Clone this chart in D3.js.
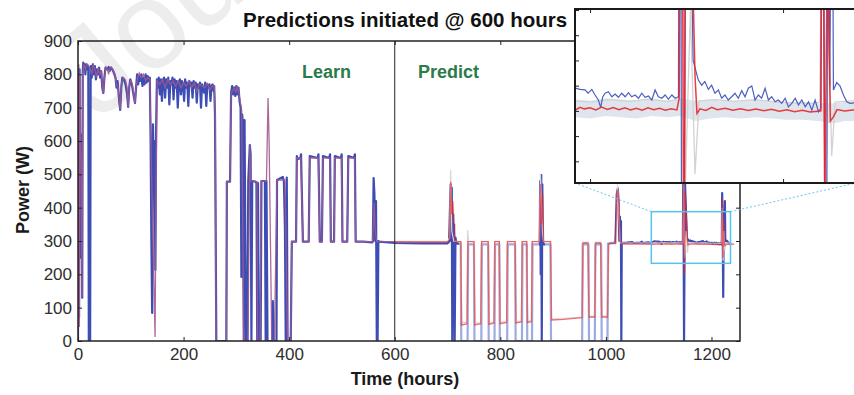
<!DOCTYPE html>
<html>
<head>
<meta charset="utf-8">
<script src="https://cdn.jsdelivr.net/npm/d3@7"></script>
<style>
  html, body { margin: 0; padding: 0; background: #fff; }
  svg { display: block; font-family: "Liberation Sans", Arial, sans-serif; }
</style>
</head>
<body>
<svg id="chart" width="854" height="395"></svg>
<script>
// measured power (W) vs time (hours)
const actual = [
  [0,0],[0.5,620],[1,800],[2,70],[3,815],[4.5,250],[5.5,620],[6.5,600],[8,130],[9,810],[10,835],[12,820],[13,830],[14,800],
  [15,830],[17,815],[18,828],[19.5,820],[20.5,0],[23,0],[24,825],[26,790],[28,830],[30,800],[32,825],[34,785],[36,815],
  [38,800],[40,820],[42,790],[44,810],[46,760],[48,744],[50,790],[52,820],[55,815],[58,822],[60,810],[62,820],[65,815],
  [68,805],[71,790],[73,760],[75,780],[78,720],[80,693],[82,760],[84,790],[87,785],[90,770],[93,740],[95,702],[97,760],
  [99,785],[102,770],[105,740],[108,714],[110,760],[112,800],[114,770],[116,795],[118,780],[120,800],[122,765],[124,790],
  [126,770],[128,800],[130,775],[132,795],[134,780],[136,790],[137.5,612],[139,300],[140.5,84],[142,650],[143.5,520],
  [145,600],[146.5,213],[148,640],[149.5,785],[151,760],[153,790],[155,740],[157,785],[159,720],[161,780],[163,790],
  [165,730],[167,785],[169,760],[171,790],[173,710],[175,780],[177,770],[179,790],[181,725],[183,785],[185,760],[187,780],
  [189,700],[191,775],[193,785],[195,740],[197,780],[199,770],[201,720],[203,785],[205,760],[207,775],[209,705],[211,780],
  [213,765],[215,775],[217,730],[219,780],[221,760],[223,775],[225,715],[227,770],[229,760],[231,775],[233,700],[235,770],
  [237,760],[239,745],[241,775],[243,705],[245,770],[247,760],[249,770],[251,720],[253,765],[255,770],[257,750],[258,765],
  [259.5,680],[262,0],[281,0],[282,478],[288,478],[290,745],[292,765],[294,740],[296,760],[298,735],[300,765],[302,740],
  [304,760],[306,720],[308,700],[309.5,192],[311,680],[312.5,650],[314,0],[315.5,663],[317,300],[318.5,0],[321,0],
  [322.5,480],[325.5,588],[327,560],[328.5,0],[330,480],[336,478],[338,474],[339.5,0],[341,474],[342.5,0],[346,0],
  [347.5,480],[354,480],[355.5,0],[357,480],[359,0],[368,0],[369,120],[370.5,0],[376,0],[377,483],[388,492],[390,480],
  [392,340],[393.5,0],[395.5,490],[397,0],[403,0],[405,298],[413,298],[414.5,555],[416,545],[421,549],[422.5,560],
  [426,298],[437,298],[439,555],[454,549],[455.5,560],[458,298],[462,298],[464,555],[476,549],[477.5,560],[479,298],
  [485,298],[486.5,555],[498,549],[499.5,560],[501,298],[510,298],[512,555],[523,549],[524.5,560],[526,298],[540,298],
  [557,296],[558.5,298],[560,489],[561.5,440],[563,300],[564.5,420],[566,0],[567.5,0],[569,300],[571,298],
  [600,294],[650,293],[700,293],[703,298],[705,420],[706,470],[707,300],[708,460],[709,0],[710.5,380],[711.5,100],
  [712.5,350],[713.5,0],[715,310],[717,292],[725,292],[726,0],[738,0],[739,290],[750,290],[751,0],[764,0],[765,290],
  [777,290],[778,0],[789,0],[790,290],[798,290],[799,0],[813,0],[814,290],[828,290],[829,0],[841,0],[842,290],[850,290],
  [851,0],[860,0],[861,290],[874,290],[875.5,480],[876.5,200],[877.5,498],[878.5,0],[879.5,470],[880.5,300],[882,290],
  [895,290],[896,0],[955,0],[956,290],[967,290],[968,0],[979,0],[980,290],[991,290],[992,0],[1003,0],[1004,292],
  [1010,294],[1018,295],[1020.5,440],[1022.5,458],[1024,420],[1025.5,300],[1026.5,373],[1027.5,320],[1028.5,360],
  [1029.2,0],[1030,294],[1040,295],[1050,297],[1052,294],[1065,295],[1068,298],[1070,294],[1080,296],[1085,294],
  [1092.2,299],[1094.8,298.5],[1097.4,298.3],[1099,297],[1100.9,298.5],[1102.6,296.3],[1104.3,294.3],[1105.5,291.4],
  [1106.6,295.6],[1107.8,297],[1109.5,297.6],[1111.3,295.6],[1113,296.7],[1114.7,295.4],[1116.4,297],[1118.2,295.6],
  [1119.9,297.2],[1121.6,295.6],[1123.3,296.3],[1125.1,295],[1126.8,297],[1128.5,295.4],[1130.3,295.9],[1132,294.3],
  [1133.7,298.3],[1135.4,295.6],[1137.2,295],[1138.9,296.3],[1140.6,294.6],[1142.4,296.3],[1144.1,295],[1145.8,295.6],
  [1146.7,520],[1148,0],[1149.7,480],[1153.4,310],[1156.1,302.2],[1157.8,300.2],[1159.5,301.6],[1161.3,298.5],
  [1163,300.2],[1164.7,297],[1166.5,298.3],[1168.2,295],[1169.9,296.3],[1171.6,294.3],[1173.4,295.6],[1175.1,297],
  [1176.8,295],[1178.6,298],[1180.3,295.6],[1182,299],[1183.8,299.9],[1185.5,294.3],[1187.2,296.3],[1188.9,295],
  [1190.7,299],[1192.4,294.3],[1194.1,295.6],[1195.9,293.6],[1197.6,294.3],[1199.3,293],[1201.1,295],[1202.8,291.6],
  [1204.5,293],[1206.3,295],[1208,292.3],[1209.7,294.3],[1211.5,291.6],[1213.2,293.6],[1214.9,290.3],[1216.6,294.3],
  [1218.4,289.6],[1219.6,291],[1220.2,444],[1221.2,340],[1222.2,132],[1223.2,380],[1224.2,300],[1225.4,420],
  [1226.1,298.3],[1227.8,301.2],[1229.5,299.9],[1231.3,296.3],[1233,293.6],[1234.7,293],[1236.8,293.2]
];

// model fit during the learning phase
const fitted = [
  [0,0],[0.5,800],[1.5,830],[2.5,42],[3.5,800],[5,620],[6,520],[7.5,132],[9,800],[11,830],[14,815],[17,832],[20,825],
  [23,818],[26,800],[29,828],[32,815],[35,790],[38,818],[41,800],[44,812],[46,770],[48,744],[50,790],[53,822],[56,813],
  [58,800],[60,818],[63,822],[66,815],[70,800],[73,770],[76,760],[78,720],[80,693],[82,770],[86,790],[90,783],[93,760],
  [95,702],[97,760],[100,785],[104,760],[108,714],[110,760],[113,790],[116,804],[120,790],[124,800],[128,780],[132,790],
  [136,785],[138,600],[142,300],[146,12],[148,500],[150,780],[155,770],[160,785],[165,760],[170,785],[175,770],[180,780],
  [185,765],[190,780],[195,760],[200,775],[205,765],[210,780],[215,760],[220,775],[225,750],[230,770],[235,765],[240,760],
  [245,772],[250,755],[255,765],[258,765],[260,680],[261.5,0],[281,0],[282,478],[288,478],[290,744],[293,750],[296,760],
  [299,745],[301.5,765],[305,740],[310,693],[314,0],[322,0],[325.5,588],[327,480],[339,478],[340,0],[345,0],[347,480],
  [357,480],[360,729],[362,600],[367,0],[372,0],[377,483],[392,483],[397,0],[403,0],[405,298],[413,298],[414.5,549],
  [422,549],[426,298],[437,298],[439,549],[455,549],[458,298],[462,298],[464,549],[477,549],[479,298],[485,298],
  [486.5,549],[499,549],[501,298],[510,298],[512,549],[524,549],[526,298],[558,298],[561,414],[563,330],[566,298],[600,298]
];

// prediction after 600 hours
const predicted = [
  [600,298],[650,297],[700,297],[704,305],[706,478],[708,380],[710,420],[714,298],[725,298],[726.5,48],[737,52],
  [738.5,298],[750,298],[751.5,48],[763,52],[764.5,298],[777,298],[778.5,50],[788,54],[789.5,298],[798,298],[799.5,52],
  [812,56],[813.5,298],[828,298],[829.5,54],[840,57],[841.5,298],[850,298],[851.5,56],[859,58],[860.5,298],[874,298],
  [876,470],[878,350],[880,440],[882,298],[895,298],[897,63],[920,65],[940,68],[955,70],[956.5,294],[966,294],[968,72],
  [979,72],[980.5,294],[990,294],[992,72],[1003,72],[1005,292],[1018,292],[1021,440],[1022.5,455],[1024.5,410],
  [1027,300],[1030,291],[1060,291],[1092.2,290.3],[1094.8,291.4],[1097,290.8],[1100,291.2],[1103,290.4],[1106,291.5],
  [1109,290.6],[1112,291.3],[1115,290.5],[1118,291.2],[1121,290.4],[1124,291],[1127,290.3],[1130,291.2],[1133,290.5],
  [1136,291],[1139,290.3],[1142,290.8],[1145,290.4],[1146.2,295],[1147.4,480],[1148.6,200],[1150,450],[1154.4,303.5],
  [1155.4,289],[1157,290.8],[1160,290.2],[1163,291.4],[1166,290.5],[1170,291],[1174,290.3],[1178,290.8],[1182,290.2],
  [1186,290.7],[1190,290.1],[1194,290.6],[1198,289.9],[1202,290.4],[1206,289.7],[1210,290.2],[1214,289.6],[1218,289.9],
  [1219.6,290],[1220.4,430],[1221.6,250],[1223,360],[1224.5,286],[1226,287.5],[1228,290.5],[1232,290],[1236,290.3],
  [1243,290.5]
];

// light grey alternative prediction
const predictedAlt = [
  [600,299],[700,299],[704,310],[706,513],[708,330],[712,299],[725,299],[726.5,56],[737,56],[738,333],[740,299],
  [750,299],[751.5,54],[763,55],[764.5,299],[777,299],[778.5,55],[788,57],[789.5,299],[798,299],[799.5,56],[812,58],
  [813.5,299],[828,299],[829.5,58],[840,60],[841.5,299],[850,299],[851.5,60],[859,61],[860.5,299],[874,299],[876,500],
  [880,320],[882,299],[895,299],[897,66],[955,72],[956.5,296],[966,296],[968,75],[979,75],[980.5,296],[990,296],
  [992,75],[1003,75],[1005,294],[1020,294],[1022,470],[1027,294],[1092,294],[1100,293.5],[1110,294.5],[1120,293.8],
  [1130,294.6],[1140,293.8],[1146,294.5],[1147.5,470],[1149,250],[1152,330],[1154.4,265],[1156.5,294],[1165,294.5],
  [1175,293.8],[1185,294.5],[1195,293.6],[1205,293.2],[1215,293],[1219,293.5],[1220.5,400],[1222,240],[1223.5,330],
  [1225.2,272],[1227,293.5],[1235,294],[1240,293.8]
];

// uncertainty band [hour, low, high]
const band = [
  [1086,287.5,294.5],[1092,287.5,294.5],[1100,287,294],[1108,288,295],[1116,287.5,294.5],[1124,287,294],[1132,288,295],
  [1140,287.5,294],[1146,288,295],[1155,286,294],[1162,287,294.5],[1170,287.5,294],[1178,287,294],[1186,287.5,294.5],
  [1194,287,294],[1202,286.5,293.5],[1210,286.5,293.5],[1218,286,293],[1226,285,293],[1232,286,293.5],[1240,286,293.5]
];

const xTicks = [0, 200, 400, 600, 800, 1000, 1200];
const yTicks = [0, 100, 200, 300, 400, 500, 600, 700, 800, 900];
const insetYTicks = [270, 280, 290, 300, 310, 320, 330];
const insetXTicks = [1100, 1200];
const zoomHours = [1086, 1236];
const zoomPower = [233, 388];
const insetHours = [1092.2, 1237.8];
const insetPower = [261.4, 330.4];
// colour of the measured line per time span
const actualShade = [[0, '#3c4db4'], [722, '#9dabe2'], [873, '#3c4db4'], [884, '#9dabe2'], [1006, '#3c4db4'], [1254, '#3c4db4']];

const svg = d3.select('#chart');
const x = d3.scaleLinear().domain([0, 1254]).range([78, 740]);
const y = d3.scaleLinear().domain([0, 900]).range([341, 41]);

const defs = svg.append('defs');
defs.append('clipPath').attr('id', 'plotClip')
  .append('rect').attr('x', 78).attr('y', 41).attr('width', 662).attr('height', 300);
defs.append('clipPath').attr('id', 'insetClip')
  .append('rect').attr('x', 575).attr('y', 9).attr('width', 281).attr('height', 174);

const grad = defs.append('linearGradient').attr('id', 'actualGrad')
  .attr('gradientUnits', 'userSpaceOnUse')
  .attr('x1', x(0)).attr('x2', x(1254)).attr('y1', 0).attr('y2', 0);
actualShade.slice(0, -1).forEach((s, i) => {
  const next = actualShade[i + 1];
  grad.append('stop').attr('offset', s[0] / 1254).attr('stop-color', s[1]);
  grad.append('stop').attr('offset', next[0] / 1254).attr('stop-color', s[1]);
});

// faint watermark
svg.append('text')
  .attr('transform', 'translate(98,122) rotate(-40)')
  .attr('font-size', 125).attr('fill', '#ededed')
  .text('Journal Pre-proof');

const line = d3.line().x(d => x(d[0])).y(d => y(d[1]));
const plot = svg.append('g').attr('clip-path', 'url(#plotClip)');

plot.append('path').datum(actual).attr('d', line)
  .attr('fill', 'none').attr('stroke', 'url(#actualGrad)').attr('stroke-width', 2.2).attr('stroke-linejoin', 'round');
plot.append('path').datum(fitted).attr('d', line)
  .attr('fill', 'none').attr('stroke', '#a2598e').attr('stroke-width', 1.3).attr('stroke-opacity', 0.9);
plot.append('path').datum(predictedAlt).attr('d', line)
  .attr('fill', 'none').attr('stroke', '#d6d6d6').attr('stroke-width', 1.2);
plot.append('path').datum(predicted).attr('d', line)
  .attr('fill', 'none').attr('stroke', '#e8262b').attr('stroke-width', 1.4).attr('stroke-opacity', 0.65);

// learn / predict divider
svg.append('line')
  .attr('x1', x(600)).attr('x2', x(600)).attr('y1', 41).attr('y2', 341)
  .attr('stroke', '#222').attr('stroke-width', 1);

// axes
const gx = svg.append('g').attr('transform', `translate(0,${y(0)})`)
  .call(d3.axisBottom(x).tickValues(xTicks).tickSize(-4).tickPadding(7).tickFormat(d3.format('d')));
const gy = svg.append('g').attr('transform', `translate(${x(0)},0)`)
  .call(d3.axisLeft(y).tickValues(yTicks).tickSize(-4).tickPadding(6));
svg.append('g').attr('transform', `translate(0,${y(900)})`)
  .call(d3.axisTop(x).tickValues(xTicks).tickSize(-4).tickFormat(''));
svg.append('g').attr('transform', `translate(${x(1254)},0)`)
  .call(d3.axisRight(y).tickValues(yTicks).tickSize(-4).tickFormat(''));
svg.selectAll('.domain').remove();
svg.selectAll('.tick line').attr('stroke', '#222');
[gx, gy].forEach(g => g.selectAll('text')
  .attr('font-size', 17).attr('fill', '#2e2e2e').attr('font-family', '"Liberation Sans", Arial, sans-serif'));

svg.append('rect').attr('x', 78).attr('y', 41).attr('width', 662).attr('height', 300)
  .attr('fill', 'none').attr('stroke', '#222').attr('stroke-width', 1.5);

svg.append('text').attr('x', 405).attr('y', 385).attr('text-anchor', 'middle')
  .attr('font-size', 18).attr('font-weight', 'bold').attr('fill', '#1a1a1a').text('Time (hours)');
svg.append('text').attr('transform', 'translate(29,190) rotate(-90)').attr('text-anchor', 'middle')
  .attr('font-size', 18).attr('font-weight', 'bold').attr('fill', '#1a1a1a').text('Power (W)');

svg.append('text').attr('x', 302).attr('y', 77.5)
  .attr('font-size', 18).attr('font-weight', 'bold').attr('fill', '#2b7a4a').text('Learn');
svg.append('text').attr('x', 418).attr('y', 77.5)
  .attr('font-size', 18).attr('font-weight', 'bold').attr('fill', '#2b7a4a').text('Predict');

// zoom box and connectors
svg.append('rect')
  .attr('x', x(zoomHours[0])).attr('y', y(zoomPower[1]))
  .attr('width', x(zoomHours[1]) - x(zoomHours[0])).attr('height', y(zoomPower[0]) - y(zoomPower[1]))
  .attr('fill', 'none').attr('stroke', '#56c3ea').attr('stroke-width', 1.5);

const ix = d3.scaleLinear().domain(insetHours).range([575, 856]);
const iy = d3.scaleLinear().domain(insetPower).range([183, 9]);

[[zoomHours[0], 575], [zoomHours[1], 856]].forEach(([h, px]) => {
  svg.append('line')
    .attr('x1', x(h)).attr('y1', y(zoomPower[1])).attr('x2', px).attr('y2', 183)
    .attr('stroke', '#6cc6ec').attr('stroke-width', 1).attr('stroke-dasharray', '2,2');
});

// inset
const inset = svg.append('g');
inset.append('rect').attr('x', 575).attr('y', 9).attr('width', 281).attr('height', 174).attr('fill', '#fff');
const ig = inset.append('g').attr('clip-path', 'url(#insetClip)');
ig.append('path').datum(band)
  .attr('d', d3.area().x(d => ix(d[0])).y0(d => iy(d[1])).y1(d => iy(d[2])))
  .attr('fill', '#dfe5ec');
const iline = d3.line().x(d => ix(d[0])).y(d => iy(d[1]));
ig.append('path').datum(predictedAlt).attr('d', iline)
  .attr('fill', 'none').attr('stroke', '#d2d2d2').attr('stroke-width', 1.3);
ig.append('path').datum(actual).attr('d', iline)
  .attr('fill', 'none').attr('stroke', '#4d5fbf').attr('stroke-width', 1.2);
ig.append('path').datum(predicted).attr('d', iline)
  .attr('fill', 'none').attr('stroke', '#e8262b').attr('stroke-width', 1.5).attr('stroke-opacity', 0.9);

inset.append('g').attr('transform', 'translate(575,0)')
  .call(d3.axisLeft(iy).tickValues(insetYTicks).tickSize(-4).tickFormat(''));
inset.append('g').attr('transform', 'translate(0,183)')
  .call(d3.axisBottom(ix).tickValues(insetXTicks).tickSize(-4).tickFormat(''));
inset.append('g').attr('transform', 'translate(0,9)')
  .call(d3.axisTop(ix).tickValues(insetXTicks).tickSize(-4).tickFormat(''));
inset.selectAll('.domain').remove();
inset.selectAll('.tick line').attr('stroke', '#222');
inset.append('rect').attr('x', 575).attr('y', 9).attr('width', 281).attr('height', 174)
  .attr('fill', 'none').attr('stroke', '#1a1a1a').attr('stroke-width', 2);

// title
svg.append('text').attr('x', 243).attr('y', 27)
  .attr('font-size', 20.5).attr('font-weight', 'bold').attr('fill', '#111')
  .text('Predictions initiated @ 600 hours');
</script>
</body>
</html>
